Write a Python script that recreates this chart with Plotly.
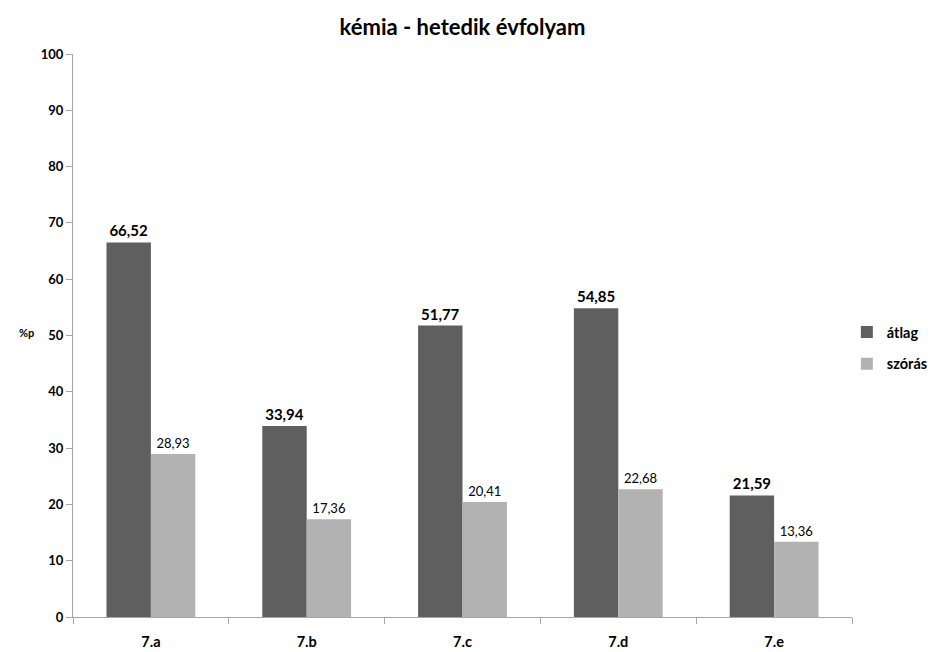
import plotly.graph_objects as go

categories = ["7.a", "7.b", "7.c", "7.d", "7.e"]
atlag = [66.52, 33.94, 51.77, 54.85, 21.59]
szoras = [28.93, 17.36, 20.41, 22.68, 13.36]

def fmt(v):
    return f"{v:.2f}".replace(".", ",")

FONT = "Lato, 'Open Sans', sans-serif"

fig = go.Figure()
fig.add_trace(go.Bar(
    x=categories, y=atlag, name="<b>átlag</b>", legendgroup="a",
    marker=dict(color="#5f5f5f", line=dict(width=0)),
    text=[f"<b>{fmt(v)}</b>" for v in atlag], textposition="outside",
    textfont=dict(size=15, color="#000000", family=FONT), cliponaxis=False,
))
fig.add_trace(go.Bar(
    x=categories, y=szoras, name="<b>szórás</b>", legendgroup="b",
    marker=dict(color="#b2b2b2", line=dict(width=0)),
    text=[fmt(v) for v in szoras], textposition="outside",
    textfont=dict(size=13, color="#000000", family=FONT), cliponaxis=False,
))

fig.update_layout(
    width=930, height=644,
    paper_bgcolor="white", plot_bgcolor="white",
    margin=dict(l=65, r=86, t=46, b=35, autoexpand=False),
    barmode="group", bargap=0.43, bargroupgap=0,
    font=dict(family=FONT, color="#000000"),
    title=dict(text="<b>kémia - hetedik évfolyam</b>", x=0.5, xanchor="center", xref="paper",
               y=0.970, yanchor="middle", font=dict(size=22, family=FONT)),
    legend=dict(xref="container", yref="container", x=0.902, xanchor="left",
                y=0.472, yanchor="middle",
                font=dict(size=14.5, family=FONT), itemwidth=30, tracegroupgap=10),
    showlegend=True,
)
fig.update_xaxes(
    showline=True, linecolor="#a6a6a6", linewidth=1.3, automargin=False,
    ticks="outside", ticklen=6, tickcolor="#a6a6a6", tickson="boundaries",
    tickfont=dict(size=14.5, family=FONT), ticklabelstandoff=11,
    tickprefix="<b>", ticksuffix="</b>",
)
fig.update_yaxes(
    range=[0, 100], dtick=10, showgrid=False, zeroline=False, automargin=False,
    showline=True, linecolor="#a6a6a6", linewidth=1.3,
    ticks="outside", ticklen=6, tickcolor="#a6a6a6",
    tickfont=dict(size=13, family=FONT), tickprefix="<b>", ticksuffix="</b>",
)
fig.add_annotation(text="<b>%p</b>", xref="paper", yref="paper", x=-0.060, y=0.505,
                   xanchor="center", yanchor="middle", showarrow=False,
                   font=dict(size=11, family=FONT))

fig.write_html("out.html")
